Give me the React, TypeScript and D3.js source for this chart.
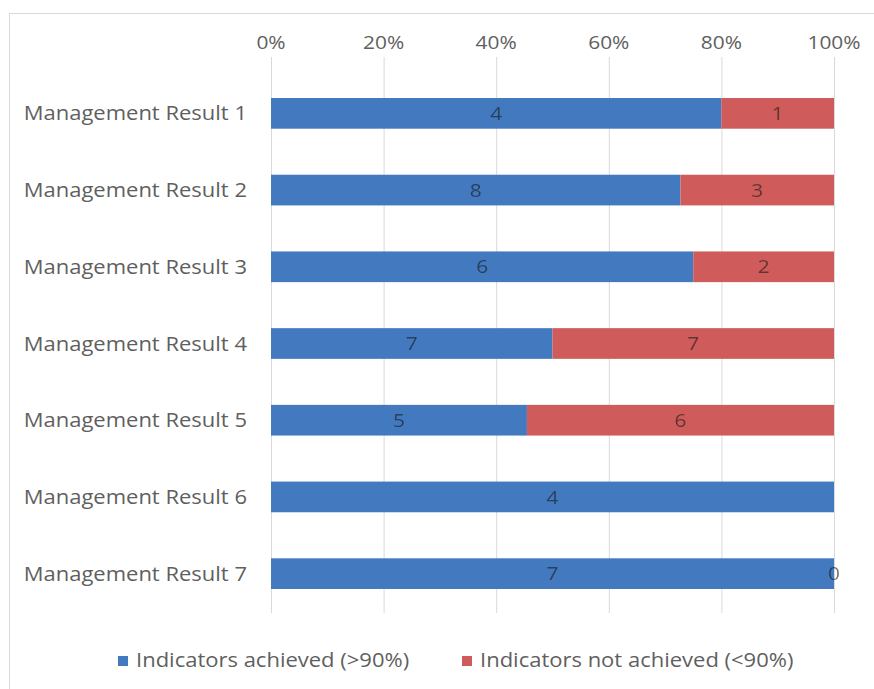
import React, { useEffect, useRef } from "react";
import * as d3 from "d3";

// chart data
const categories = [
  "Management Result 1",
  "Management Result 2",
  "Management Result 3",
  "Management Result 4",
  "Management Result 5",
  "Management Result 6",
  "Management Result 7",
];
const achieved = [4, 8, 6, 7, 5, 4, 7];
const notAchieved: (number | null)[] = [1, 3, 2, 7, 6, null, 0];
const seriesNames = ["Indicators achieved (>90%)", "Indicators not achieved (<90%)"];
const tickValues = [0, 0.2, 0.4, 0.6, 0.8, 1];

const WIDTH = 874;
const HEIGHT = 689;

const App: React.FC = () => {
  const svgRef = useRef<SVGSVGElement>(null);

  useEffect(() => {
    if (!svgRef.current) return;
    const svg = d3.select(svgRef.current);
    svg.selectAll("*").remove();

    const font = "'Open Sans', 'Noto Sans', sans-serif";
    const blue = "#4279BF";
    const red = "#CF5B5B";
    const textColor = "#5f5f5f";
    const stretch = 1.1; // the reference text is a bit wide

    // text placed at (x, y) and stretched horizontally
    const addText = (
      g: d3.Selection<SVGGElement, unknown, null, undefined>,
      tx: number,
      ty: number,
      str: string,
      size: number,
      anchor: string,
      fill: string
    ) =>
      g
        .append("text")
        .attr("transform", `translate(${tx},${ty}) scale(${stretch},1)`)
        .attr("dy", "0.35em")
        .attr("text-anchor", anchor)
        .style("font-family", font)
        .style("font-size", `${size}px`)
        .style("fill", fill)
        .text(str);

    // outer frame
    svg
      .append("rect")
      .attr("x", 9.5)
      .attr("y", 13.5)
      .attr("width", WIDTH)
      .attr("height", HEIGHT)
      .attr("fill", "#fff")
      .attr("stroke", "#d9d9d9");

    const x = d3.scaleLinear().domain([0, 1]).range([271, 834]);
    const y = d3
      .scaleBand()
      .domain(categories)
      .range([75, 612])
      .paddingInner(0.6)
      .paddingOuter(0.3);

    // gridlines
    svg
      .append("g")
      .selectAll("line")
      .data(tickValues)
      .join("line")
      .attr("x1", (d) => x(d) + 0.5)
      .attr("x2", (d) => x(d) + 0.5)
      .attr("y1", 57)
      .attr("y2", 613)
      .attr("stroke", "#d9d9d9");

    // top tick labels
    const ticks = svg.append("g");
    tickValues.forEach((t) => {
      addText(ticks, x(t), 42, d3.format(".0%")(t), 19, "middle", textColor);
    });

    // category labels
    const cats = svg.append("g");
    categories.forEach((c) => {
      addText(cats, 247, (y(c) || 0) + y.bandwidth() / 2, c, 20, "end", textColor);
    });

    const rows = categories.map((c, i) => {
      const a = achieved[i];
      const n = notAchieved[i] ?? 0;
      return { c, a, n, nRaw: notAchieved[i], share: a / (a + n) };
    });

    const bars = svg.append("g");
    const labels = svg.append("g").attr("opacity", 0.6);
    rows.forEach((r) => {
      const by = y(r.c) || 0;
      const bh = y.bandwidth();
      bars
        .append("rect")
        .attr("x", x(0))
        .attr("y", by)
        .attr("width", x(r.share) - x(0))
        .attr("height", bh)
        .attr("fill", blue);
      if (r.n > 0) {
        bars
          .append("rect")
          .attr("x", x(r.share))
          .attr("y", by)
          .attr("width", x(1) - x(r.share))
          .attr("height", bh)
          .attr("fill", red);
      }
      // data labels
      addText(labels, (x(0) + x(r.share)) / 2, by + bh / 2, String(r.a), 19, "middle", "#1a1a1a");
      if (r.nRaw !== null) {
        addText(labels, (x(r.share) + x(1)) / 2, by + bh / 2, String(r.nRaw), 19, "middle", "#1a1a1a");
      }
    });

    // legend
    const legendX = [118, 462];
    const colors = [blue, red];
    const legend = svg.append("g");
    seriesNames.forEach((name, i) => {
      legend
        .append("rect")
        .attr("x", legendX[i])
        .attr("y", 656)
        .attr("width", 10)
        .attr("height", 10)
        .attr("fill", colors[i]);
      addText(legend, legendX[i] + 18, 660, name, 20, "start", textColor);
    });
  }, []);

  return (
    <svg
      ref={svgRef}
      width={WIDTH}
      height={HEIGHT}
      style={{ position: "absolute", left: 0, top: 0, display: "block", background: "#fff" }}
    />
  );
};

export default App;
